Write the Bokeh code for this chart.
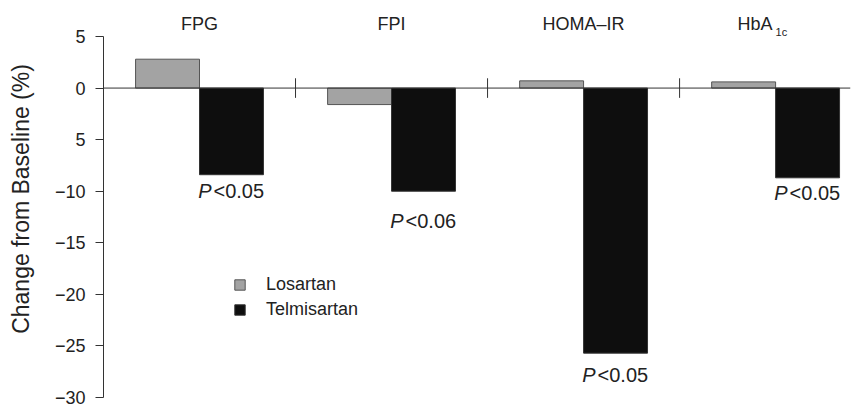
from bokeh.plotting import figure
from bokeh.models import FixedTicker, Span, Legend, LegendItem
from bokeh.core.properties import value
from bokeh.embed import file_html
from bokeh.resources import INLINE

# ---- data ----
categories = ["FPG", "FPI", "HOMA–IR", "HbA"]
category_subscripts = ["", "", "", "1c"]
losartan = [2.8, -1.6, 0.7, 0.6]
telmisartan = [-8.4, -10.0, -25.7, -8.7]
p_values = ["<0.05", "<0.06", "<0.05", "<0.05"]
p_label_y = [-10.0, -12.9, -27.8, -10.2]
y_ticks = [5, 0, -5, -10, -15, -20, -25, -30]
y_tick_labels = ["5", "0", "5", "−10", "−15", "−20", "−25", "−30"]
series_names = ["Losartan", "Telmisartan"]

FONT = "Liberation Sans"
TXT = "#222222"
LINE = "#333333"

n = len(categories)
bar_w = 0.333
centers = [i + 0.5 for i in range(n)]
x_los = [c - bar_w / 2 for c in centers]
x_tel = [c + bar_w / 2 for c in centers]
separators = list(range(1, n))

p = figure(width=861, height=408, x_range=(0, 3.89), y_range=(-30, 8.49),
           output_backend="svg", toolbar_location=None,
           min_border_left=103, min_border_right=11, min_border_top=0,
           min_border_bottom=11)

p.xaxis.visible = False
p.xgrid.visible = False
p.ygrid.visible = False
p.outline_line_color = None

ax = p.yaxis[0]
ax.ticker = FixedTicker(ticks=y_ticks)
ax.major_label_overrides = dict(zip(y_ticks, y_tick_labels))
ax.bounds = (-30, 5)
ax.axis_line_color = LINE
ax.major_tick_line_color = LINE
ax.major_tick_out = 8
ax.major_tick_in = 0
ax.minor_tick_line_color = None
ax.major_label_text_font = FONT
ax.major_label_text_font_size = "18px"
ax.major_label_text_color = TXT
ax.major_label_standoff = 10
ax.axis_label = "Change from Baseline (%)"
ax.axis_label_text_font = FONT
ax.axis_label_text_font_size = "23px"
ax.axis_label_text_font_style = "normal"
ax.axis_label_text_color = TXT
ax.axis_label_standoff = 18

r_los = p.vbar(x=x_los, top=losartan, width=bar_w, fill_color="#a3a3a3",
               line_color="#555555", line_width=1)
r_tel = p.vbar(x=x_tel, top=telmisartan, width=bar_w, fill_color="#0e0e0e",
               line_color="#333333", line_width=1)

p.add_layout(Span(location=0, dimension="width", line_color=LINE, line_width=1))
p.segment(x0=separators, x1=separators, y0=[-0.95] * len(separators),
          y1=[0.95] * len(separators), line_color=LINE, line_width=1)

# category headings
for c, name, sub in zip(centers, categories, category_subscripts):
    if sub:
        p.text(x=[c], y=[6.25], text=[name], text_align="right", text_baseline="middle",
               x_offset=-3, text_font=value(FONT), text_font_size="18px", text_color=TXT)
        p.text(x=[c], y=[5.4], text=[sub], text_align="left", text_baseline="middle",
               x_offset=0, text_font=value(FONT), text_font_size="11px", text_color=TXT)
    else:
        p.text(x=[c], y=[6.25], text=[name], text_align="center", text_baseline="middle",
               text_font=value(FONT), text_font_size="18px", text_color=TXT)

# P-value annotations
p.text(x=x_tel, y=p_label_y, text=["P"] * n, text_align="right", text_baseline="middle",
       x_offset=-20, text_font=value(FONT), text_font_size="20px",
       text_font_style="italic", text_color=TXT)
p.text(x=x_tel, y=p_label_y, text=p_values, text_align="left", text_baseline="middle",
       x_offset=-18, text_font=value(FONT), text_font_size="20px", text_color=TXT)

legend = Legend(items=[LegendItem(label=series_names[0], renderers=[r_los]),
                       LegendItem(label=series_names[1], renderers=[r_tel])],
                location=(130, 77))
legend.border_line_color = None
legend.background_fill_alpha = 0
legend.glyph_width = 13
legend.glyph_height = 13
legend.label_standoff = 20
legend.spacing = 4
legend.padding = 0
legend.margin = 0
legend.label_text_font = FONT
legend.label_text_font_size = "18px"
legend.label_text_color = TXT
p.add_layout(legend)

open("out.html", "w").write(file_html(p, INLINE))
